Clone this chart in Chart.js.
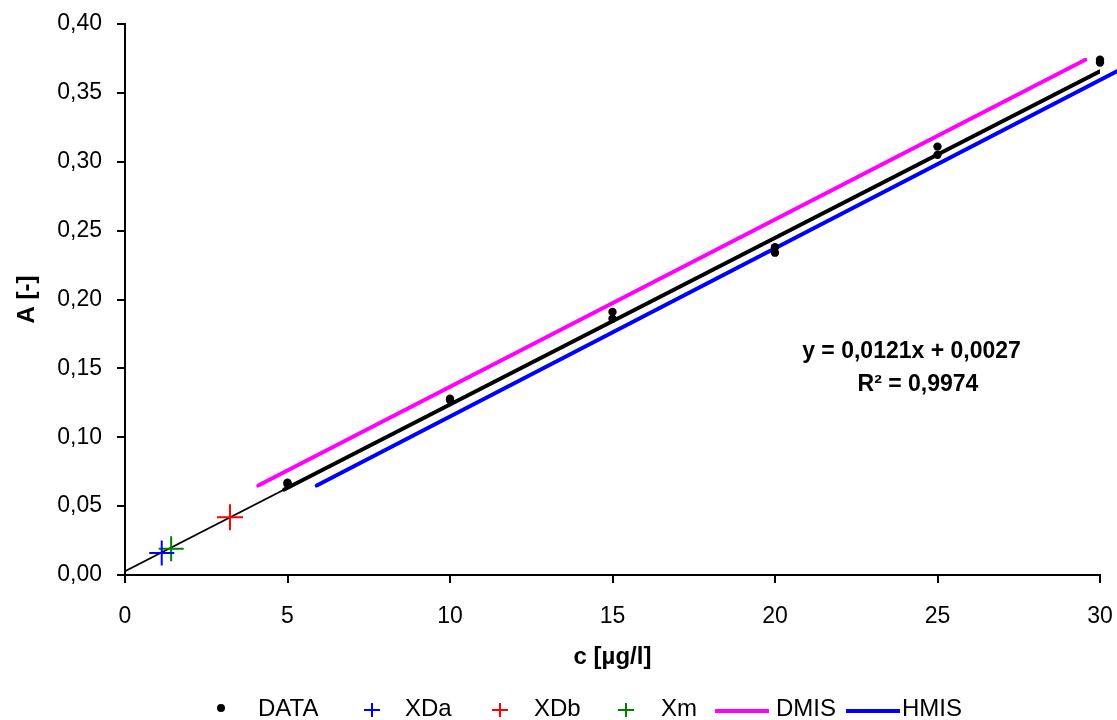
<!DOCTYPE html>
<html>
<head>
<meta charset="utf-8">
<title>Kalibrace</title>
<script src="https://cdn.jsdelivr.net/npm/chart.js@4.4.0/dist/chart.umd.min.js"></script>
<style>
  body { margin: 0; background: #fff; }
  #wrap { position: relative; width: 1117px; height: 720px; font-family: "Liberation Sans", Arial, sans-serif; }
  #legend > span { position: absolute; }
  .txt { font-size: 24px; line-height: 24px; top: 696px; color: #000; white-space: nowrap; }
</style>
</head>
<body>
<div id="wrap">
  <canvas id="myChart" width="1117" height="720"></canvas>
  <div id="legend"></div>
</div>
<script>
// calibration points
const concX = [5, 5, 10, 10, 15, 15, 20, 20, 25, 25, 30, 30];
const absA = [0.066, 0.067, 0.127, 0.128, 0.186, 0.191, 0.234, 0.238, 0.305, 0.311, 0.372, 0.374];

// regression y = 0,0121x + 0,0027 (thin from 0, thick over the data range)
const trendX = [0, 30];
const trendY = [0.0027, 0.3657];
const fitX = [4.9, 30];
const fitY = [0.0620, 0.3657];

// limit lines
const dmisX = [4.1, 29.55];
const dmisY = [0.065, 0.374];
const hmisX = [5.9, 31.2];
const hmisY = [0.065, 0.374];

// single points
const xdaX = [1.13], xdaY = [0.016];
const xdbX = [3.23], xdbY = [0.042];
const xmX = [1.42], xmY = [0.019];

const yTicks = [0, 0.05, 0.10, 0.15, 0.20, 0.25, 0.30, 0.35, 0.40];
const xTicks = [0, 5, 10, 15, 20, 25, 30];

const eqText = "y = 0,0121x + 0,0027";
const r2Text = "R\u00B2 = 0,9974";

const FONT = '"Liberation Sans", Arial, sans-serif';

function pts(xs, ys) {
  return xs.map(function (v, i) { return { x: v, y: ys[i] }; });
}

const eqLabel = {
  id: "eqLabel",
  afterDatasetsDraw: function (chart) {
    const ctx = chart.ctx;
    const x = chart.scales.x, y = chart.scales.y;
    ctx.save();
    ctx.font = "bold 23px " + FONT;
    ctx.fillStyle = "#000";
    ctx.textAlign = "center";
    ctx.textBaseline = "middle";
    ctx.fillText(eqText, x.getPixelForValue(24.2), y.getPixelForValue(0.162));
    ctx.fillText(r2Text, x.getPixelForValue(24.4), y.getPixelForValue(0.138));
    ctx.restore();
  }
};

const ctx = document.getElementById("myChart").getContext("2d");
new Chart(ctx, {
  type: "scatter",
  data: {
    datasets: [
      {
        label: "DATA",
        data: pts(concX, absA),
        showLine: false,
        pointRadius: 4.2,
        pointBackgroundColor: "#000",
        pointBorderWidth: 0,
        clip: false
      },
      {
        label: "XDa",
        data: pts(xdaX, xdaY),
        pointStyle: "cross",
        pointRadius: 12.5,
        pointBorderColor: "#0000ff",
        pointBorderWidth: 2
      },
      {
        label: "XDb",
        data: pts(xdbX, xdbY),
        pointStyle: "cross",
        pointRadius: 13,
        pointBorderColor: "#ff0000",
        pointBorderWidth: 2
      },
      {
        label: "Xm",
        data: pts(xmX, xmY),
        pointStyle: "cross",
        pointRadius: 12.5,
        pointBorderColor: "#008000",
        pointBorderWidth: 2
      },
      {
        label: "DMIS",
        data: pts(dmisX, dmisY),
        showLine: true,
        borderColor: "#ff00ff",
        borderWidth: 4,
        borderCapStyle: "round",
        pointRadius: 0
      },
      {
        label: "HMIS",
        data: pts(hmisX, hmisY),
        showLine: true,
        borderColor: "#0000ff",
        borderWidth: 4,
        borderCapStyle: "round",
        pointRadius: 0,
        clip: false
      },
      {
        label: "fit",
        data: pts(fitX, fitY),
        showLine: true,
        borderColor: "#000",
        borderWidth: 4,
        borderCapStyle: "round",
        pointRadius: 0
      },
      {
        label: "trend",
        data: pts(trendX, trendY),
        showLine: true,
        borderColor: "#000",
        borderWidth: 1.8,
        pointRadius: 0
      }
    ]
  },
  options: {
    responsive: false,
    animation: false,
    devicePixelRatio: 1,
    layout: { autoPadding: false, padding: { top: 24, right: 17, bottom: 45, left: 0 } },
    scales: {
      x: {
        type: "linear",
        min: 0,
        max: 30,
        afterBuildTicks: function (scale) {
          scale.ticks = xTicks.map(function (v) { return { value: v }; });
        },
        afterFit: function (scale) {
          scale.height = 100;
          scale.paddingLeft = 0;
          scale.paddingRight = 0;
        },
        border: { color: "#000", width: 2 },
        grid: { drawOnChartArea: false, drawTicks: true, tickLength: 8, color: "#000", lineWidth: 2 },
        ticks: {
          color: "#000",
          padding: 20,
          maxRotation: 0,
          font: { family: FONT, size: 23 }
        },
        title: {
          display: true,
          text: "c [\u00B5g/l]",
          color: "#000",
          padding: { top: 0, bottom: 3 },
          font: { family: FONT, size: 24, weight: "bold" }
        }
      },
      y: {
        type: "linear",
        min: 0,
        max: 0.4,
        afterBuildTicks: function (scale) {
          scale.ticks = yTicks.map(function (v) { return { value: v }; });
        },
        afterFit: function (scale) {
          scale.width = 125;
          scale.paddingTop = 0;
          scale.paddingBottom = 0;
        },
        border: { color: "#000", width: 2 },
        grid: { drawOnChartArea: false, drawTicks: true, tickLength: 8, color: "#000", lineWidth: 2 },
        ticks: {
          color: "#000",
          padding: 15,
          font: { family: FONT, size: 23 },
          callback: function (value) { return value.toFixed(2).replace(".", ","); }
        },
        title: {
          display: true,
          text: "A [-]",
          color: "#000",
          padding: { top: 13, bottom: 0 },
          font: { family: FONT, size: 24, weight: "bold" }
        }
      }
    },
    plugins: {
      legend: { display: false },
      tooltip: { enabled: false }
    }
  },
  plugins: [eqLabel]
});

// legend below the plot
const legendItems = [
  { label: "DATA", kind: "dot", color: "#000", mx: 221, tx: 258 },
  { label: "XDa", kind: "cross", color: "#0000ff", mx: 372, tx: 405 },
  { label: "XDb", kind: "cross", color: "#ff0000", mx: 500, tx: 534 },
  { label: "Xm", kind: "cross", color: "#008000", mx: 626, tx: 661 },
  { label: "DMIS", kind: "line", color: "#ff00ff", mx: 742, tx: 776 },
  { label: "HMIS", kind: "line", color: "#0000ff", mx: 873, tx: 902 }
];

const legend = document.getElementById("legend");
legendItems.forEach(function (item) {
  const m = document.createElement("span");
  if (item.kind === "dot") {
    m.style.cssText = "left:" + (item.mx - 4) + "px;top:704px;width:8px;height:8px;border-radius:50%;background:" + item.color;
  } else if (item.kind === "cross") {
    m.style.cssText = "left:" + (item.mx - 8) + "px;top:702px;width:16px;height:16px";
    m.innerHTML = '<svg width="16" height="16"><path d="M0 8H16M8 1V15" stroke="' + item.color + '" stroke-width="2"/></svg>';
  } else {
    m.style.cssText = "left:" + (item.mx - 27) + "px;top:709px;width:54px;height:4px;background:" + item.color;
  }
  legend.appendChild(m);
  const t = document.createElement("span");
  t.className = "txt";
  t.style.left = item.tx + "px";
  t.textContent = item.label;
  legend.appendChild(t);
});
</script>
</body>
</html>
